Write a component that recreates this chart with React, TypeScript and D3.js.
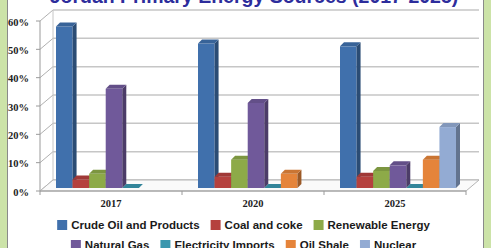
import { scaleBand, scaleLinear, color } from 'd3';

const years = ['2017', '2020', '2025'];
const seriesNames = ['Crude Oil and Products', 'Coal and coke', 'Renewable Energy', 'Natural Gas', 'Electricity Imports', 'Oil Shale', 'Nuclear'];
const seriesColors = ['#4070ac', '#b5413e', '#8daa48', '#70599a', '#3a97ae', '#e5843a', '#93abd3'];
const crudeOil = [57, 51, 50];
const coal = [3, 4, 4];
const renewable = [5, 10, 6];
const naturalGas = [35, 30, 8];
const electricity = [0, 0, 0];
const oilShale: (number | null)[] = [null, 5, 10];
const nuclear: (number | null)[] = [null, null, 21.5];
const yTicks = [0, 10, 20, 30, 40, 50, 60];
const legendRows = [[0, 1, 2], [3, 4, 5, 6]];

const allSeries = [crudeOil, coal, renewable, naturalGas, electricity, oilShale, nuclear];

const W = 491;
const H = 248;
const x0 = 40, x1 = 466;
const wallDx = 13;
const barDx = 4, barDy = 4;

const x = scaleBand<string>().domain(years).range([x0, x1]);
const yBar = scaleLinear().domain([0, 60]).range([188, 18]);
const yFront = scaleLinear().domain([0, 60]).range([191, 21]);
const yBack = scaleLinear().domain([0, 60]).range([180, 10]);

const legendFont = 'bold 11.5px "Liberation Sans", Arial, sans-serif';
let ctx: CanvasRenderingContext2D | null = null;
function textW(s: string) {
  if (!ctx) ctx = document.createElement('canvas').getContext('2d');
  if (!ctx) return s.length * 6.5;
  ctx.font = legendFont;
  return ctx.measureText(s).width;
}

function shade(c: string, k: number) {
  const col = color(c);
  return col ? col.darker(k).toString() : c;
}

function App() {
  const bw = x.bandwidth();
  const inner = scaleBand<number>().domain(seriesNames.map((_, i) => i)).range([16, 16 + 116]);

  const legendItems = legendRows.map((row, r) => {
    const widths = row.map(i => 14 + textW(seriesNames[i]));
    const total = widths.reduce((a, b) => a + b, 0) + 11 * (row.length - 1);
    let cx = 243.5 - total / 2;
    return row.map((i, k) => {
      const item = { i, x: cx, y: 220 + r * 20 };
      cx += widths[k] + 11;
      return item;
    });
  }).flat();

  return (
    <svg width={W} height={H} style={{ position: 'absolute', left: 0, top: 0 }}>
      <rect x={0} y={0} width={W} height={H} fill="#cce3a8" />
      <rect x={7.5} y={-2} width={476} height={H + 4} fill="#fff" stroke="#8a8a8a" strokeWidth={1} />
      <text x={254} y={3} textAnchor="middle" fill="#2d2d9c" fontFamily='"Liberation Sans", Arial, sans-serif' fontWeight="bold" fontSize={19.5}>
        Jordan Primary Energy Sources (2017-2025)
      </text>

      {/* walls and gridlines */}
      {yTicks.map(t => (
        <g key={t}>
          <line x1={x0 + wallDx} x2={x1 + wallDx} y1={yBack(t)} y2={yBack(t)} stroke="#c6c6c6" strokeWidth={1.5} />
          <line x1={x0} x2={x0 + wallDx} y1={yFront(t)} y2={yBack(t)} stroke="#b0b0b0" strokeWidth={1} />
          <line x1={x0 - 4} x2={x0} y1={yFront(t)} y2={yFront(t)} stroke="#9a9a9a" strokeWidth={1} />
          <text x={29} y={yFront(t) + 1} dy="0.35em" textAnchor="end" fontFamily='"Liberation Serif", "Times New Roman", serif' fontWeight="bold" fontSize={10.5} fill="#222">
            {t}%
          </text>
        </g>
      ))}
      <line x1={x0 + wallDx} x2={x0 + wallDx} y1={yBack(0)} y2={yBack(60)} stroke="#c6c6c6" strokeWidth={1} />
      <line x1={x0} x2={x0} y1={yFront(0)} y2={yFront(60)} stroke="#9a9a9a" strokeWidth={1} />
      <polygon
        points={`${x0},${yFront(0)} ${x1},${yFront(0)} ${x1 + wallDx},${yBack(0)} ${x0 + wallDx},${yBack(0)}`}
        fill="#fafafa" stroke="#b5b5b5" strokeWidth={1}
      />
      <line x1={x0} x2={x1} y1={yFront(0)} y2={yFront(0)} stroke="#9a9a9a" strokeWidth={1.2} />
      {[...years.map(y => x(y) as number), x1].map((tx, i) => (
        <line key={i} x1={tx} x2={tx} y1={yFront(0)} y2={yFront(0) + 4} stroke="#9a9a9a" strokeWidth={1} />
      ))}

      {/* bars */}
      {years.map((yr, gi) => (
        <g key={yr}>
          {allSeries.map((vals, si) => {
            const v = vals[gi];
            if (v === null || v === undefined) return null;
            const bx0 = (x(yr) as number) + (inner(si) as number);
            const bx1 = bx0 + inner.bandwidth();
            const yt = yBar(v);
            const yb = yBar(0);
            const c = seriesColors[si];
            return (
              <g key={si}>
                <rect x={bx0} y={yt} width={bx1 - bx0} height={yb - yt} fill={c} />
                <polygon points={`${bx1},${yt} ${bx1 + barDx},${yt - barDy} ${bx1 + barDx},${yb - barDy} ${bx1},${yb}`} fill={shade(c, 1.1)} />
                <polygon points={`${bx0},${yt} ${bx0 + barDx},${yt - barDy} ${bx1 + barDx},${yt - barDy} ${bx1},${yt}`} fill={shade(c, 0.35)} />
              </g>
            );
          })}
          <text x={(x(yr) as number) + bw / 2} y={207} textAnchor="middle" fontFamily='"Liberation Serif", "Times New Roman", serif' fontWeight="bold" fontSize={10.5} fill="#222">
            {yr}
          </text>
        </g>
      ))}

      {/* legend */}
      {legendItems.map(it => (
        <g key={it.i}>
          <rect x={it.x} y={it.y} width={10} height={10} fill={seriesColors[it.i]} />
          <text x={it.x + 14} y={it.y + 9} fontFamily='"Liberation Sans", Arial, sans-serif' fontWeight="bold" fontSize={11.5} fill="#1a1a1a">
            {seriesNames[it.i]}
          </text>
        </g>
      ))}
    </svg>
  );
}

export default App;
